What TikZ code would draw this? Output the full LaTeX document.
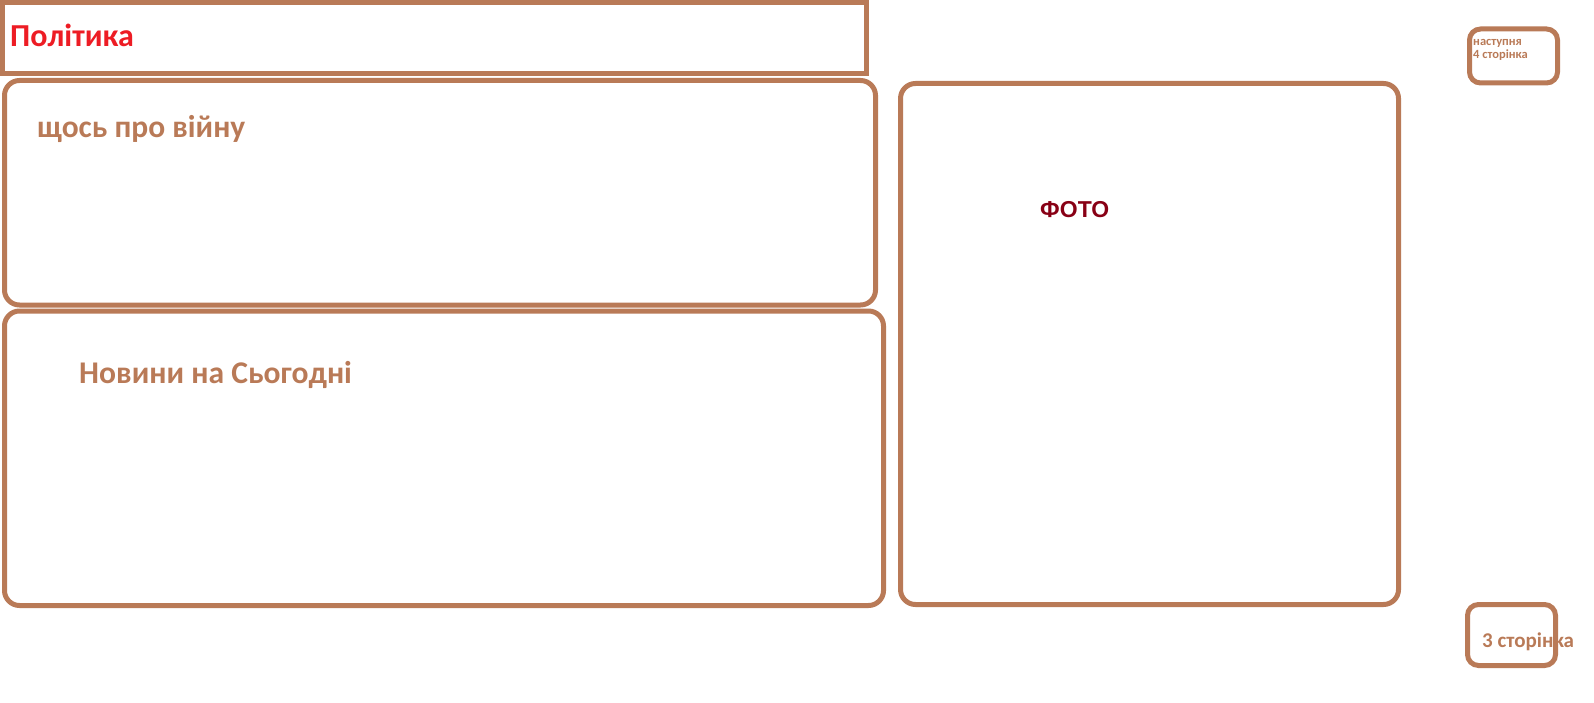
\documentclass[tikz,border=0pt]{standalone}
\usepackage{fontspec}
\setmainfont{Carlito}
\newfontfamily\photofont{Liberation Sans}
\usepackage{xcolor}
\usetikzlibrary{positioning}
\definecolor{paintbrown}{HTML}{B97A57}
\definecolor{paintred}{HTML}{ED1C24}
\definecolor{paintdarkred}{HTML}{880015}
\tikzset{
  panel/.style={draw=paintbrown, line width=5pt, rounded corners=15pt, anchor=north west, inner sep=0pt, outer sep=0pt},
  tab/.style={draw=paintbrown, line width=5pt, rounded corners=11pt, anchor=north west, inner sep=0pt, outer sep=0pt},
  label/.style={anchor=base west, inner sep=0pt, font=\bfseries, text=paintbrown}
}
\begin{document}
\begin{tikzpicture}[x=1pt, y=-1pt]
    \useasboundingbox (0,0) rectangle (1594,703);
    % page layout
    \node[draw=paintbrown, line width=5pt, anchor=north west, outer sep=0pt, minimum width=864pt, minimum height=70.5pt] (head) at (2.5,3) {};
    \node[panel, minimum width=871pt, minimum height=224.5pt] (war) at (4.5,80.5) {};
    \node[panel, minimum width=879pt, minimum height=294.5pt] (today) at (4.5,311) {};
    \node[panel, minimum width=498pt, minimum height=521pt] (photo) at (900.5,83.5) {};
    \node[tab, minimum width=88pt, minimum height=54pt] (next) at (1469.5,29) {};
    \node[tab, minimum width=88pt, minimum height=61pt] (prev) at (1467.5,604.5) {};
    % texts
    \node[label, text=paintred, font=\bfseries\fontsize{32}{38}\selectfont] (headtext) at (10,47) {Політика};
    \node[label, font=\bfseries\fontsize{31.5}{38}\selectfont] (wartext) at (37,138) {щось про війну};
    \node[label, font=\bfseries\fontsize{31.6}{38}\selectfont] (todaytext) at (79,383) {Новини на Сьогодні};
    \node[label, text=paintdarkred, font=\photofont\bfseries\fontsize{23}{27}\selectfont] (phototext) at (1040,218) {ФОТО};
    \node[label, font=\bfseries\fontsize{12.5}{14}\selectfont] (nexttext) at (1473,45.5) {наступня};
    \node[label, font=\bfseries\fontsize{12.5}{14}\selectfont] (nexttextb) at (1473,59) {4 сторінка};
    \node[label, font=\bfseries\fontsize{21}{25}\selectfont] (prevtext) at (1482,647) {3 сторінка};
\end{tikzpicture}
\end{document}
